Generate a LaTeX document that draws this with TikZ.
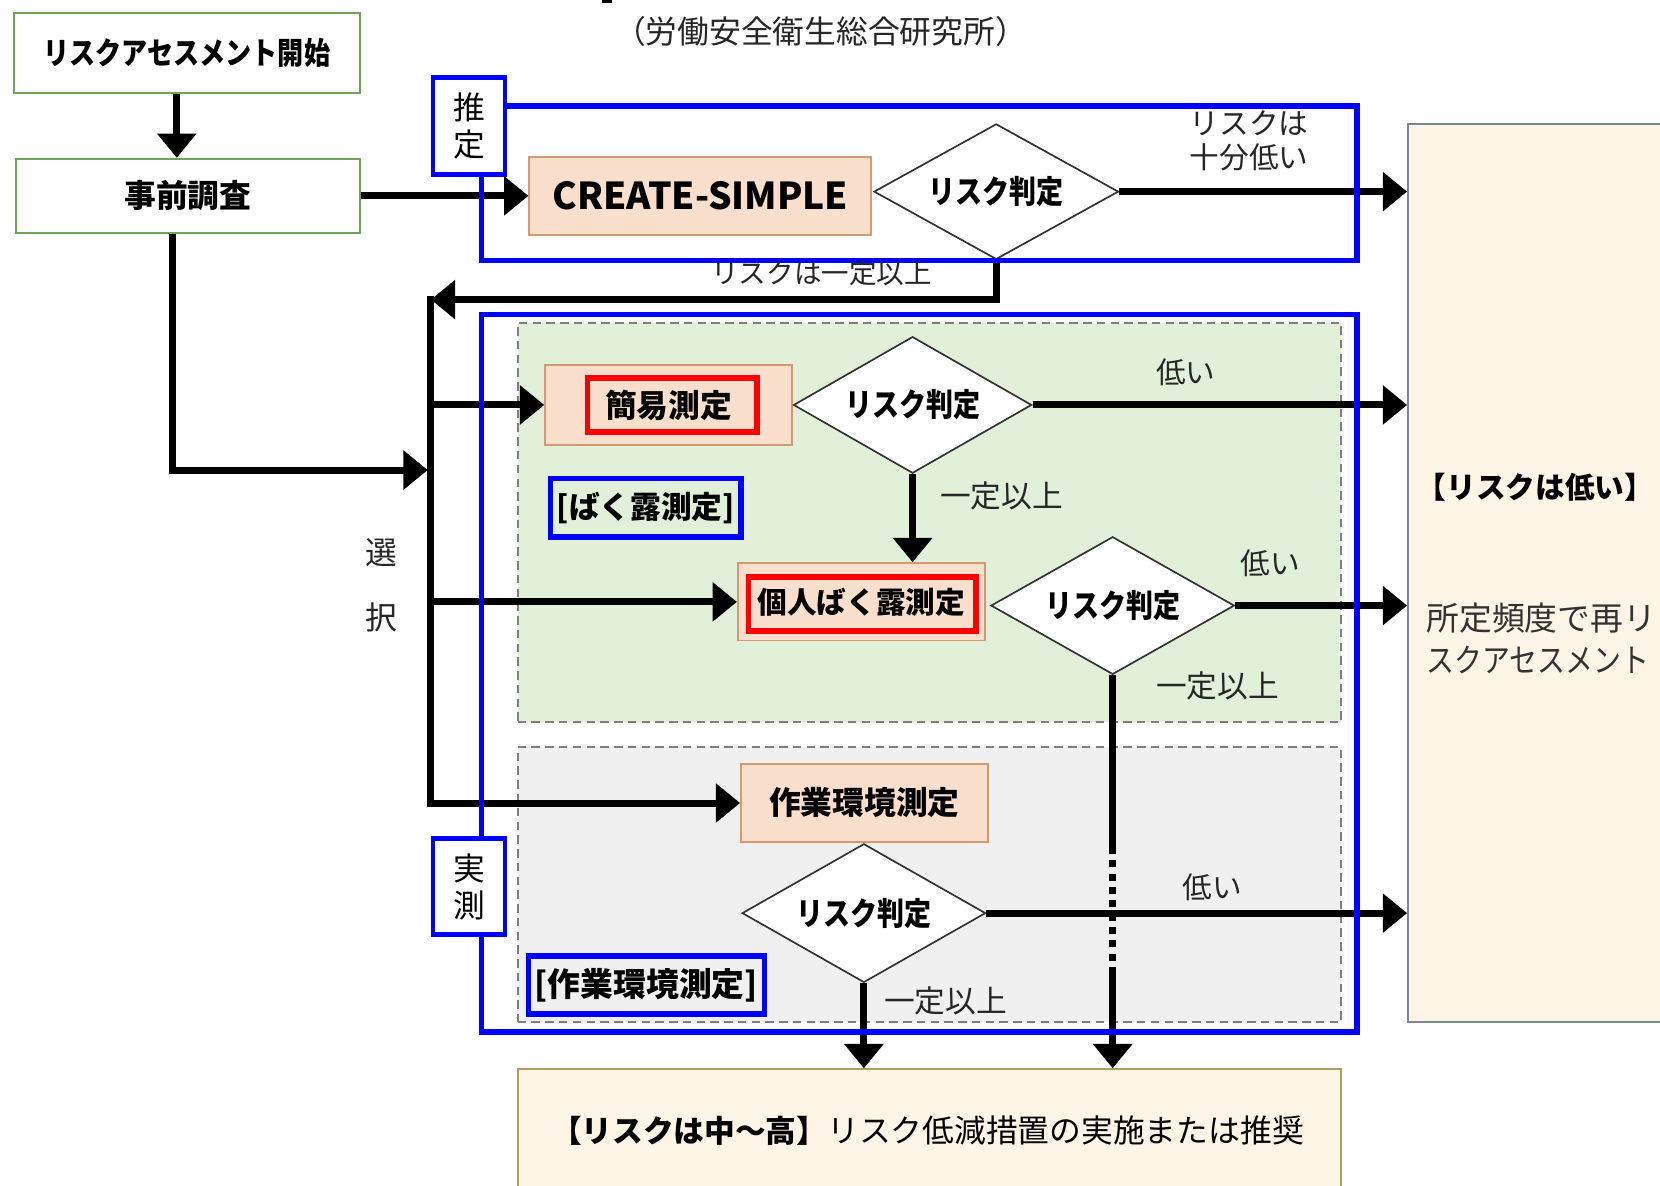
\documentclass[tikz,border=0pt]{standalone}
\usepackage{fontspec}
\setmainfont{Noto Sans CJK JP}
\newfontfamily\jpnc[FakeStretch=0.85]{Noto Sans CJK JP}
\usetikzlibrary{arrows.meta,shapes.geometric,fit}

\definecolor{peachfill}{HTML}{FADFCD}
\definecolor{peachline}{HTML}{D4996E}
\definecolor{startline}{HTML}{6FA55A}
\definecolor{regiongreen}{HTML}{E2EFD9}
\definecolor{regiongrey}{HTML}{F0F0F0}
\definecolor{creamfill}{HTML}{FDF6E6}
\definecolor{creamline}{HTML}{A9A25E}
\definecolor{lowline}{HTML}{7C8796}
\definecolor{frameblue}{HTML}{0000FF}
\definecolor{markred}{HTML}{FF0000}
\definecolor{dashgrey}{HTML}{7F7F7F}

\begin{document}
\begin{tikzpicture}[x=0.5pt,y=-0.5pt,line join=miter,
  startbox/.style={draw=startline,line width=0.9pt,fill=white,inner sep=0pt},
  peachbox/.style={draw=peachline,line width=0.9pt,fill=peachfill,inner sep=0pt},
  judge/.style={diamond,draw=black!80,line width=0.8pt,fill=white,inner sep=0pt,
    shape aspect=2,font=\jpnc\bfseries\fontsize{15}{17}\selectfont},
  flow/.style={line width=3.3pt,-{Triangle[length=11.5pt,width=18pt]}},
  trunk/.style={line width=3.3pt},
  dotrun/.style={line width=3.3pt,dash pattern=on 3.3pt off 3pt},
  frame/.style={draw=frameblue,line width=2.6pt},
  tag/.style={draw=frameblue,line width=2.2pt,fill=white,inner sep=0pt,
    align=center,font=\fontsize{15}{17.5}\selectfont},
  markbox/.style={draw=markred,line width=2.6pt},
  region/.style={draw=dashgrey,line width=0.9pt,dash pattern=on 4pt off 2.5pt,inner sep=0pt},
  note/.style={text=black!85,inner sep=0pt,font=\fontsize{14}{16}\selectfont},
  boxtext/.style={font=\bfseries\fontsize{15}{17}\selectfont}
]
\useasboundingbox (0,0) rectangle (1568,1120);
\fill[white] (0,0) rectangle (1568,1120);

% heading
\node[note,font=\fontsize{15}{17}\selectfont] (title) at (775,30) {（労働安全衛生総合研究所）};
\fill[black] (569,0) rectangle (578,3);

% outcome boxes
\node[draw=lowline,line width=0.9pt,fill=creamfill,inner sep=0pt,fit={(1330,117) (1600,965)}] (low) {};
\node[draw=creamline,line width=0.9pt,fill=creamfill,inner sep=0pt,fit={(489,1010) (1267,1150)}] (high) {};

% measurement regions
\node[region,fill=regiongreen,fit={(489,305) (1267,682)}] (expo) {};
\node[region,fill=regiongrey,fit={(489,706) (1267,965)}] (envr) {};

% process boxes
\node[startbox,minimum width=163.5pt,minimum height=38pt,font=\jpnc\bfseries\fontsize{14.5}{16}\selectfont] (start) at (176.5,50) {リスクアセスメント開始};
\node[startbox,minimum width=162.5pt,minimum height=35pt,boxtext] (pre) at (177.5,185) {事前調査};
\node[peachbox,minimum width=161.5pt,minimum height=37pt,font=\bfseries\fontsize{17.5}{19}\selectfont] (cs) at (661.5,185) {CREATE-SIMPLE};
\node[peachbox,minimum width=116.5pt,minimum height=37.5pt,boxtext] (kan) at (631.5,382.5) {簡易測定};
\node[peachbox,minimum width=116.5pt,minimum height=36.5pt,font=\bfseries\fontsize{14}{16}\selectfont] (kojin) at (813.5,568.5) {個人ばく露測定};
\node[peachbox,minimum width=116.5pt,minimum height=36.5pt,boxtext] (sagyo) at (816.5,758.5) {作業環境測定};

% decisions
\node[judge,minimum width=115.5pt,minimum height=64pt] (d1) at (941,181) {リスク判定};
\node[judge,minimum width=112.5pt,minimum height=64.5pt] (d2) at (862,382.5) {リスク判定};
\node[judge,minimum width=115pt,minimum height=65pt] (d3) at (1051,572) {リスク判定};
\node[judge,minimum width=115pt,minimum height=65.5pt] (d4) at (816,862.5) {リスク判定};

% connectors
\coordinate (jtop) at (407,283);
\coordinate (jbot) at (407,758.5);
\coordinate (jmid) at (404,444);
\coordinate (dashA) at (0,800);
\coordinate (dashB) at (0,920);

\draw[flow] ([xshift=-4.75pt]start.south) -- ([xshift=-4.75pt]start.south |- pre.north);
\draw[flow] (pre.east) -- (cs.west);
\draw[flow] (d1.east) -- (d1.east -| low.west);
\draw[flow] (d1.south) |- (jtop);
\draw[flow] ([yshift=1.65pt]jtop) -- (jbot) -- (sagyo.west);
\draw[flow] ([xshift=-7.25pt]pre.south) |- (jmid);
\draw[flow] (jtop |- kan.west) -- (kan.west);
\draw[flow] (jtop |- kojin.west) -- (kojin.west);
\draw[flow] (d2.east) -- (d2.east -| low.west);
\draw[flow] (d2.south) -- (d2.south |- kojin.north);
\draw[flow] (d3.east) -- (d3.east -| low.west);
\draw[trunk] (d3.south) -- (d3.south |- dashA);
\draw[dotrun] (d3.south |- dashA) -- (d3.south |- dashB);
\draw[flow] (d3.south |- dashB) -- (d3.south |- high.north);
\draw[flow] (d4.east) -- (d4.east -| low.west);
\draw[flow] (d4.south) -- (d4.south |- high.north);

% estimation and measurement frames
\draw[frame] (455,100) rectangle (1282,246);
\draw[frame] (455,297) rectangle (1282,975);
\node[tag,minimum width=34pt,minimum height=46pt] (tagest) at (443,119) {推\\定};
\node[tag,minimum width=34pt,minimum height=45.5pt] (tagmeas) at (443,837.5) {実\\測};

% highlighted methods
\draw[markbox] (555,357) rectangle (715,408);
\draw[markbox] (707,545) rectangle (922,596);
\node[frame,inner sep=0pt,minimum width=90pt,minimum height=27.5pt,font=\bfseries\fontsize{14.5}{16}\selectfont] (expolbl) at (610,479.5) {[ばく露測定]};
\node[frame,inner sep=0pt,minimum width=111.5pt,minimum height=27.5pt,font=\bfseries\fontsize{15.5}{17}\selectfont] (envrlbl) at (610.5,930.5) {[作業環境測定]};

% branch labels
\node[note,align=center,font=\fontsize{14}{16.5}\selectfont] (lbl1) at (1180,133) {リスクは\\十分低い};
\node[note,font=\fontsize{13}{15}\selectfont] (lbl2) at (776,258) {リスクは一定以上};
\node[note] (lbl3) at (1120,352) {低い};
\node[note,font=\fontsize{14.5}{16}\selectfont] (lbl4) at (946,468) {一定以上};
\node[note] (lbl5) at (1200,532) {低い};
\node[note,font=\fontsize{14.5}{16}\selectfont] (lbl6) at (1150,648) {一定以上};
\node[note] (lbl7) at (1145,838) {低い};
\node[note,font=\fontsize{14.5}{16}\selectfont] (lbl8) at (893,945) {一定以上};
\node[note,font=\fontsize{15}{17}\selectfont] (sel1) at (360,522) {選};
\node[note,font=\fontsize{15}{17}\selectfont] (sel2) at (360,583) {択};

% outcome texts
\node[inner sep=0pt,anchor=west,font=\bfseries\fontsize{14}{16}\selectfont] (lowhead) at (1338,460) {【リスクは低い】};
\node[inner sep=0pt,anchor=west,align=left,text=black!80,font=\fontsize{15.5}{20}\selectfont] (lowbody) at (1347,603) {所定頻度で再リ\\{\jpnc スクアセスメント}};
\node[inner sep=0pt,font=\fontsize{15}{17}\selectfont] (hightext) at (876,1068) {{\bfseries\fontsize{14.5}{16}\selectfont 【リスクは中〜高】}リスク低減措置の実施または推奨};
\end{tikzpicture}
\end{document}
